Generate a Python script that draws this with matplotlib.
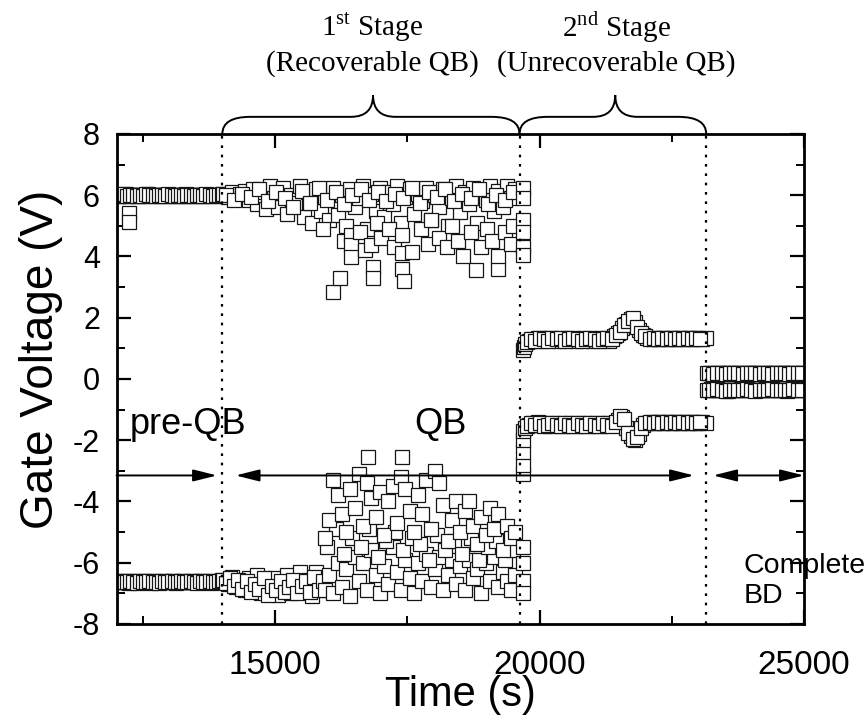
import matplotlib.pyplot as plt
from matplotlib.path import Path
from matplotlib.patches import PathPatch
from matplotlib.ticker import MultipleLocator

plt.rcParams['font.family'] = ['Liberation Sans', 'DejaVu Sans']
plt.rcParams['axes.unicode_minus'] = False
plt.rcParams['mathtext.fontset'] = 'custom'
plt.rcParams['mathtext.rm'] = 'Liberation Serif'

# pre-QB: gate voltage at the high and low level (two interleaved sweeps)
pre_t = [11990, 12050, 12110, 12170, 12230, 12290, 12350, 12410, 12470, 12530,
         12590, 12650, 12710, 12770, 12830, 12890, 12950, 13010, 13070, 13130,
         13190, 13250, 13310, 13370, 13430, 13490, 13550, 13610, 13670, 13730,
         13790, 13850, 13910, 13970]
pre_t2 = [12020, 12080, 12140, 12200, 12260, 12320, 12380, 12440, 12500, 12560,
          12620, 12680, 12740, 12800, 12860, 12920, 12980, 13040, 13100, 13160,
          13220, 13280, 13340, 13400, 13460, 13520, 13580, 13640, 13700, 13760,
          13820, 13880, 13940, 13990]
pre_top = [6.02, 5.98, 6.01, 6.03, 5.99, 6.00, 6.02, 5.97, 6.01, 6.00,
           6.03, 5.98, 6.00, 6.02, 5.99, 6.01, 6.00, 5.98, 6.02, 6.01,
           5.99, 6.00, 6.03, 5.98, 6.00, 6.01, 5.99, 6.02, 6.00, 5.98,
           6.01, 6.00, 6.02, 5.99]
pre_top2 = [5.99, 6.01, 6.04, 5.98, 6.00, 6.02, 5.99, 6.01, 5.98, 6.03,
            6.00, 6.01, 5.98, 6.00, 6.02, 5.99, 6.03, 6.01, 5.98, 6.00,
            6.02, 5.99, 6.00, 6.01, 5.98, 6.02, 6.00, 5.99, 6.03, 6.01,
            5.99, 6.02, 6.00, 6.04]
pre_bot = [-6.60, -6.64, -6.62, -6.60, -6.65, -6.62, -6.61, -6.64, -6.62, -6.60,
           -6.63, -6.65, -6.61, -6.62, -6.64, -6.60, -6.62, -6.63, -6.61, -6.65,
           -6.62, -6.60, -6.63, -6.62, -6.64, -6.61, -6.62, -6.60, -6.63, -6.62,
           -6.65, -6.61, -6.62, -6.60]
pre_bot2 = [-6.63, -6.61, -6.64, -6.62, -6.60, -6.63, -6.65, -6.61, -6.62, -6.64,
            -6.60, -6.62, -6.63, -6.65, -6.61, -6.62, -6.64, -6.60, -6.63, -6.62,
            -6.61, -6.64, -6.62, -6.60, -6.63, -6.65, -6.61, -6.62, -6.64, -6.60,
            -6.62, -6.63, -6.61, -6.58]
pre_out_t = [12240, 12240]
pre_out_v = [5.42, 5.12]

# 1st stage (recoverable QB), high level
s1_top_t = [14020, 14100, 14180, 14260, 14340, 14420, 14500, 14580, 14660, 14740,
            14820, 14900, 14980, 15060, 15140, 15220, 15300, 15380, 15460, 15540,
            15620, 15700, 15780, 15860, 15940, 16020, 16100, 16180, 16260, 16340,
            16420, 16500, 16580, 16660, 16740, 16820, 16900, 16980, 17060, 17140,
            17220, 17300, 17380, 17460, 17540, 17620, 17700, 17780, 17860, 17940,
            18020, 18100, 18180, 18260, 18340, 18420, 18500, 18580, 18660, 18740,
            18820, 18900, 18980, 19060, 19140, 19220, 19300, 19380, 19460, 19540]
s1_top = [6.05, 5.95, 6.10, 5.90, 6.05, 6.15, 5.85, 6.20, 5.70, 6.10,
          5.55, 6.30, 5.90, 5.60, 6.25, 5.40, 6.00, 5.75, 6.30, 5.30,
          6.10, 5.10, 6.20, 5.50, 5.95, 5.20, 6.25, 5.35, 6.00, 5.00,
          6.20, 5.60, 5.90, 6.30, 4.90, 6.05, 5.50, 6.25, 5.30, 6.10,
          5.70, 6.30, 5.10, 5.95, 6.20, 5.40, 6.05, 5.80, 6.25, 5.20,
          6.00, 5.60, 6.20, 5.00, 5.90, 6.30, 5.45, 6.10, 5.70, 6.25,
          5.10, 6.00, 5.85, 6.30, 5.50, 6.15, 5.60, 6.30, 5.90, 6.20]
s1_top2_t = [14060, 14220, 14380, 14540, 14700, 14860, 15020, 15180, 15340, 15500,
             15660, 15820, 15980, 16140, 16300, 16460, 16620, 16780, 16940, 17100,
             17260, 17420, 17580, 17740, 17900, 18060, 18220, 18380, 18540, 18700,
             18860, 19020, 19180, 19340, 19500]
s1_top2 = [6.00, 5.85, 6.05, 5.95, 6.20, 5.80, 6.10, 5.90, 5.60, 6.15,
           5.75, 6.25, 5.85, 6.10, 5.70, 6.00, 6.20, 5.85, 6.10, 5.80,
           6.05, 5.90, 6.25, 5.75, 6.10, 5.95, 6.20, 5.80, 6.05, 5.90,
           6.20, 5.70, 6.00, 5.85, 6.10]
s1_top_low_t = [15900, 16100, 16230, 16300, 16440, 16440, 16440, 16600, 16700, 16820,
                16840, 16840, 16930, 17000, 17150, 17250, 17400, 17400, 17400, 17430,
                17590, 17750, 17880, 17950, 18100, 18250, 18350, 18450, 18550, 18700,
                18790, 18900, 19000, 19100, 19220, 19220, 19350, 19450, 19500]
s1_top_low = [4.90, 2.85, 3.30, 4.50, 4.70, 4.37, 3.98, 4.80, 4.20, 4.37,
              3.65, 3.30, 5.10, 4.60, 4.90, 4.30, 4.70, 4.10, 3.60, 3.20,
              4.15, 4.90, 4.40, 5.20, 4.60, 4.30, 5.00, 4.50, 4.00, 4.80,
              3.55, 4.30, 4.90, 4.50, 3.60, 4.00, 4.80, 4.40, 5.00]
s1_end_t = [19680, 19680, 19680, 19680, 19680, 19680]
s1_end_top = [6.25, 5.90, 5.20, 4.80, 4.30, 4.05]

# 1st stage, low level
s1_bot_t = [14020, 14100, 14180, 14260, 14340, 14420, 14500, 14580, 14660, 14740,
            14820, 14900, 14980, 15060, 15140, 15220, 15300, 15380, 15460, 15540,
            15620, 15700, 15780, 15860]
s1_bot = [-6.55, -6.70, -6.45, -6.80, -6.60, -6.90, -6.50, -6.85, -6.40, -7.00,
          -6.60, -6.95, -6.50, -7.05, -6.70, -6.40, -7.00, -6.60, -6.30, -6.90,
          -6.55, -7.10, -6.30, -6.80]
s1_bot2_t = [14060, 14140, 14220, 14300, 14380, 14460, 14540, 14620, 14700, 14780,
             14860, 14940, 15020, 15100, 15180, 15260, 15340, 15420, 15500, 15580,
             15660, 15740, 15820, 15900]
s1_bot2 = [-6.65, -6.50, -6.75, -6.55, -6.85, -6.60, -6.95, -6.70, -6.85, -6.50,
           -7.05, -6.75, -6.90, -6.60, -6.95, -6.80, -6.55, -7.00, -6.75, -6.60,
           -6.95, -6.45, -6.90, -6.60]
qb_t = [15940, 16020, 16100, 16180, 16260, 16340, 16420, 16500, 16580, 16660,
        16740, 16820, 16900, 16980, 17060, 17140, 17220, 17300, 17380, 17460,
        17540, 17620, 17700, 17780, 17860, 17940, 18020, 18100, 18180, 18260,
        18340, 18420, 18500, 18580, 18660, 18740, 18820, 18900, 18980, 19060,
        19140, 19220, 19300, 19380, 19460, 19540]
qb_upper = [-5.2, -4.6, -3.3, -3.8, -4.4, -5.0, -3.6, -4.2, -3.1, -4.8,
            -3.4, -3.9, -4.5, -3.7, -5.1, -4.0, -3.5, -4.7, -3.2, -3.6,
            -4.3, -5.0, -3.8, -4.4, -3.3, -4.9, -3.0, -3.4, -4.1, -5.3,
            -4.6, -4.0, -5.0, -4.3, -4.0, -4.8, -5.4, -4.5, -5.1, -4.2,
            -4.9, -4.4, -5.6, -4.8, -5.2, -5.0]
qb_lower = [-6.9, -6.4, -7.0, -6.0, -6.8, -6.2, -7.1, -5.8, -6.6, -6.0,
            -6.9, -5.6, -6.4, -7.0, -6.1, -6.7, -5.5, -6.3, -6.9, -5.9,
            -6.5, -7.0, -6.0, -6.6, -5.7, -6.8, -6.2, -5.8, -6.9, -6.4,
            -5.9, -6.7, -6.1, -6.9, -5.9, -6.5, -6.2, -7.0, -6.0, -6.6,
            -5.8, -6.8, -6.3, -6.6, -6.9, -6.4]
qb_mid_t = [15980, 16140, 16300, 16460, 16620, 16780, 16940, 17100, 17260, 17420,
            17580, 17740, 17900, 18060, 18220, 18380, 18540, 18700, 18860, 19020,
            19180, 19340, 19500]
qb_mid = [-5.5, -4.9, -5.7, -5.2, -5.5, -4.9, -5.8, -5.3, -5.0, -5.6,
          -5.2, -5.4, -5.9, -5.1, -5.6, -5.3, -5.7, -5.2, -5.9, -5.5,
          -5.3, -5.9, -5.6]
qb_peak_t = [16750, 17400]
qb_peak = [-2.55, -2.55]
s1_end_bot = [-5.5, -6.0, -6.6, -7.0, -3.1, -2.8, -2.4, -2.0, -1.7]
s1_end_bot_t = [19680] * 9

# 2nd stage (unrecoverable QB)
s2_t = [19720, 19800, 19880, 19960, 20040, 20120, 20200, 20280, 20360, 20440,
        20520, 20600, 20680, 20760, 20840, 20920, 21000, 21080, 21160, 21240,
        21320, 21400, 21480, 21560, 21640, 21720, 21800, 21880, 21960, 22040,
        22120, 22200, 22280, 22360, 22440, 22520, 22600, 22680, 22760, 22840,
        22920, 23000, 23080, 23150]
s2_top = [1.15, 1.25, 1.30, 1.35, 1.25, 1.30, 1.35, 1.30, 1.25, 1.30,
          1.35, 1.30, 1.25, 1.30, 1.35, 1.30, 1.25, 1.30, 1.35, 1.30,
          1.25, 1.40, 1.50, 1.65, 1.80, 1.95, 1.85, 1.60, 1.45, 1.35,
          1.30, 1.35, 1.30, 1.35, 1.30, 1.35, 1.30, 1.35, 1.30, 1.35,
          1.30, 1.35, 1.30, 1.33]
s2_bot = [-1.60, -1.50, -1.45, -1.40, -1.50, -1.45, -1.55, -1.50, -1.45, -1.55,
          -1.50, -1.45, -1.55, -1.50, -1.45, -1.55, -1.50, -1.45, -1.55, -1.50,
          -1.45, -1.50, -1.35, -1.25, -1.60, -1.85, -2.00, -1.80, -1.50, -1.45,
          -1.40, -1.45, -1.40, -1.45, -1.40, -1.45, -1.40, -1.45, -1.40, -1.45,
          -1.40, -1.45, -1.40, -1.45]
s2_t2 = [19760, 19840, 19920, 20000, 20080, 20160, 20240, 20320, 20400, 20480,
         20560, 20640, 20720, 20800, 20880, 20960, 21040, 21120, 21200, 21280,
         21360, 21440, 21520, 21600, 21680, 21760, 21840, 21920, 22000, 22080,
         22160, 22240, 22320, 22400, 22480, 22560, 22640, 22720, 22800, 22880,
         22960, 23040]
s2_top2 = [1.20, 1.30, 1.25, 1.35, 1.30, 1.25, 1.35, 1.30, 1.35, 1.25,
           1.30, 1.35, 1.30, 1.25, 1.30, 1.35, 1.30, 1.25, 1.30, 1.35,
           1.30, 1.45, 1.55, 1.75, 1.90, 2.00, 1.70, 1.50, 1.40, 1.30,
           1.35, 1.30, 1.35, 1.30, 1.35, 1.30, 1.35, 1.30, 1.35, 1.30,
           1.35, 1.30]
s2_bot2 = [-1.55, -1.45, -1.50, -1.45, -1.55, -1.50, -1.45, -1.50, -1.55, -1.45,
           -1.50, -1.55, -1.45, -1.50, -1.55, -1.45, -1.50, -1.55, -1.45, -1.50,
           -1.55, -1.40, -1.20, -1.30, -1.75, -1.95, -1.90, -1.60, -1.45, -1.40,
           -1.45, -1.40, -1.45, -1.40, -1.45, -1.40, -1.45, -1.40, -1.45, -1.40,
           -1.45, -1.40]
s2_start_t = [19680, 19700]
s2_start = [0.95, 1.05]

# complete breakdown
bd_t = [23160, 23240, 23320, 23400, 23480, 23560, 23640, 23720, 23800, 23880,
        23960, 24040, 24120, 24200, 24280, 24360, 24440, 24520, 24600, 24680,
        24760, 24840, 24920, 25000]
bd_t2 = [23200, 23280, 23360, 23440, 23520, 23600, 23680, 23760, 23840, 23920,
         24000, 24080, 24160, 24240, 24320, 24400, 24480, 24560, 24640, 24720,
         24800, 24880, 24960]
bd_top = [0.18, 0.20, 0.17, 0.19, 0.18, 0.20, 0.17, 0.18, 0.19, 0.17,
          0.20, 0.18, 0.19, 0.17, 0.18, 0.20, 0.18, 0.17, 0.19, 0.18,
          0.20, 0.17, 0.19, 0.18]
bd_top2 = [0.19, 0.17, 0.20, 0.18, 0.17, 0.19, 0.18, 0.20, 0.17, 0.19,
           0.18, 0.20, 0.17, 0.19, 0.18, 0.17, 0.19, 0.20, 0.18, 0.17,
           0.19, 0.18, 0.20]
bd_bot = [-0.36, -0.34, -0.37, -0.35, -0.36, -0.38, -0.35, -0.36, -0.34, -0.37,
          -0.36, -0.35, -0.37, -0.36, -0.34, -0.36, -0.37, -0.35, -0.36, -0.38,
          -0.35, -0.36, -0.34, -0.36]
bd_bot2 = [-0.35, -0.37, -0.34, -0.36, -0.38, -0.35, -0.36, -0.37, -0.35, -0.34,
           -0.36, -0.38, -0.35, -0.36, -0.37, -0.34, -0.36, -0.35, -0.37, -0.36,
           -0.34, -0.37, -0.35]

stage_bounds = [14000, 19620, 23150]

fig = plt.figure(figsize=(8.68, 7.15), dpi=100)
ax = fig.add_axes([0.1343, 0.1273, 0.7920, 0.6853])

mk = dict(ls='none', marker='s', ms=10, mfc='white', mec='#151515', mew=0.9)
series = [(pre_t, pre_top), (pre_t2, pre_top2), (pre_t, pre_bot), (pre_t2, pre_bot2),
          (pre_out_t, pre_out_v),
          (s1_top_t, s1_top), (s1_top2_t, s1_top2), (s1_top_low_t, s1_top_low),
          (s1_end_t, s1_end_top),
          (s1_bot_t, s1_bot), (s1_bot2_t, s1_bot2), (qb_t, qb_lower), (qb_mid_t, qb_mid),
          (qb_t, qb_upper), (qb_peak_t, qb_peak), (s1_end_bot_t, s1_end_bot),
          (s2_start_t, s2_start), (s2_t, s2_top), (s2_t2, s2_top2),
          (s2_t, s2_bot), (s2_t2, s2_bot2),
          (bd_t, bd_top), (bd_t2, bd_top2), (bd_t, bd_bot), (bd_t2, bd_bot2)]
for t, v in series:
    ax.plot(t, v, **mk)

for xb in stage_bounds:
    ax.plot([xb, xb], [-8, 8], color='black', lw=1.6, ls=(0, (1.2, 3.0)), zorder=3)

ax.set_xlim(12000, 25000)
ax.set_ylim(-8, 8)
ax.xaxis.set_major_locator(MultipleLocator(5000))
ax.xaxis.set_minor_locator(MultipleLocator(2500))
ax.yaxis.set_major_locator(MultipleLocator(2))
ax.yaxis.set_minor_locator(MultipleLocator(1))
ax.tick_params(which='both', direction='in', top=True, right=True)
ax.tick_params(axis='x', labelsize=24, pad=19)
ax.tick_params(axis='y', labelsize=22, pad=12)
ax.tick_params(which='major', length=10, width=1.6)
ax.tick_params(which='minor', length=5.5, width=1.4)
for s in ax.spines.values():
    s.set_linewidth(2.0)
ax.set_xlabel('Time (s)', fontsize=30)
ax.set_ylabel('Gate Voltage (V)', fontsize=33)
ax.xaxis.set_label_coords(0.5, -0.105)
ax.yaxis.set_label_coords(-0.078, 0.54)

# phase arrows
arr_y = -3.15
one = dict(arrowstyle='-|>,head_length=0.8,head_width=0.2', color='black', lw=1.4,
           mutation_scale=18, shrinkA=0, shrinkB=0)
two = dict(one, arrowstyle='<|-|>,head_length=0.8,head_width=0.2')
ax.annotate('', xy=(13900, arr_y), xytext=(12000, arr_y), arrowprops=one)
ax.annotate('', xy=(22920, arr_y), xytext=(14250, arr_y), arrowprops=two)
ax.annotate('', xy=(25000, arr_y), xytext=(23280, arr_y), arrowprops=two,
            annotation_clip=False)

ax.text(13350, -1.5, 'pre-QB', fontsize=26, ha='center', va='center')
ax.text(18130, -1.5, 'QB', fontsize=26, ha='center', va='center')
ax.text(23860, -6.6, 'Complete\nBD', fontsize=20.5, ha='left', va='center',
        linespacing=1.2, clip_on=False)


def brace(x0, x1, xm):
    r = 530
    r2 = 420
    y0, y1, yt = 8.0, 8.56, 9.27
    verts = [(x0, y0), (x0, y1), (x0 + r, y1),
             (xm - r2, y1), (xm, y1), (xm, yt),
             (xm, y1), (xm + r2, y1),
             (x1 - r, y1), (x1, y1), (x1, y0)]
    codes = [Path.MOVETO, Path.CURVE3, Path.CURVE3,
             Path.LINETO, Path.CURVE3, Path.CURVE3,
             Path.CURVE3, Path.CURVE3,
             Path.LINETO, Path.CURVE3, Path.CURVE3]
    ax.add_patch(PathPatch(Path(verts, codes), fc='none', ec='black', lw=1.4,
                           clip_on=False))


brace(stage_bounds[0], stage_bounds[1], 16850)
brace(stage_bounds[1], stage_bounds[2], 21430)

serif = dict(family='Liberation Serif', fontsize=21, ha='center', va='center')
fig.text(372 / 868, 1 - 27 / 715, r'1$^{\mathrm{st}}$ Stage', **serif)
fig.text(372 / 868, 1 - 64 / 715, '(Recoverable QB)', **serif)
fig.text(616 / 868, 1 - 27 / 715, r'2$^{\mathrm{nd}}$ Stage', **serif)
fig.text(616 / 868, 1 - 64 / 715, '(Unrecoverable QB)', **serif)

fig.savefig('out.png', dpi=100)
